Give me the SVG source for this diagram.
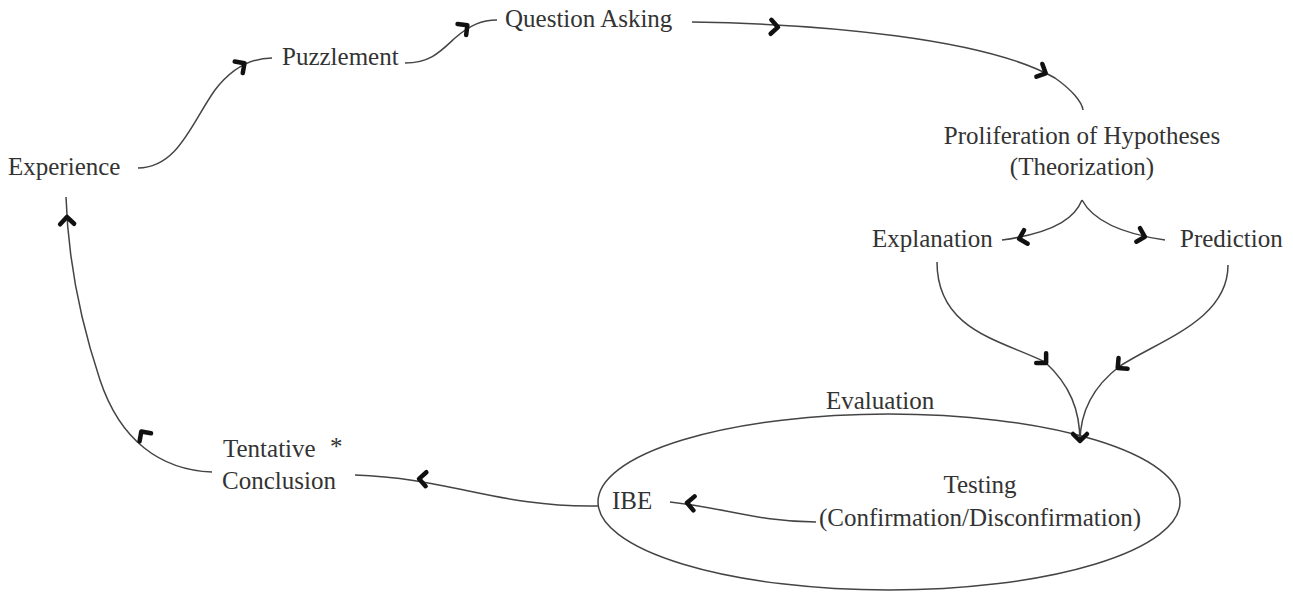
<svg xmlns="http://www.w3.org/2000/svg" width="1293" height="595" viewBox="0 0 1293 595">
<style>
.c{fill:none;stroke:#444;stroke-width:1.5}
.h{fill:none;stroke:#111;stroke-width:4.5;stroke-linecap:round;stroke-linejoin:round}
</style>
<defs>
<path id="chev" class="h" d="M-4,-7 Q1,-2 3,0 Q1,2 -4,7"/>
</defs>
<rect width="1293" height="595" fill="#fff"/>
<g id="connectors">
<path class="c" d="M138,168 C178,168 192,122 215,90 C232,68 250,58 272,58"/>
<path class="c" d="M405,63 C430,63 440,52 455,38 C470,25 482,20 497,20"/>
<path class="c" d="M692,22 C820,24 985,38 1055,78 C1072,90 1082,102 1083,110"/>
<path class="c" d="M1082,200 C1076,215 1060,232 1002,240"/>
<path class="c" d="M1082,200 C1090,215 1110,232 1165,240"/>
<path class="c" d="M937,262 C937,330 1000,340 1045,362 C1070,385 1080,410 1080,442"/>
<path class="c" d="M1228,265 C1228,320 1160,340 1120,366 C1095,385 1080,410 1080,442"/>
<path class="c" d="M816,522 C760,522 725,508 670,502"/>
<path class="c" d="M598,506 C500,508 450,478 355,475"/>
<path class="c" d="M212,472 C160,470 120,440 100,380 C80,320 68,260 66,197"/>
<ellipse class="c" cx="889" cy="502" rx="291" ry="88"/>
<use href="#chev" transform="translate(242,65) rotate(-35)"/>
<use href="#chev" transform="translate(465,27) rotate(-38)"/>
<use href="#chev" transform="translate(775,27) rotate(3)"/>
<use href="#chev" transform="translate(1043,72) rotate(25)"/>
<use href="#chev" transform="translate(1022,238) rotate(165)"/>
<use href="#chev" transform="translate(1142,236) rotate(15)"/>
<use href="#chev" transform="translate(1044,361) rotate(45)"/>
<use href="#chev" transform="translate(1120,366) rotate(140)"/>
<use href="#chev" transform="translate(1080,438) rotate(90)"/>
<use href="#chev" transform="translate(690,503) rotate(185)"/>
<use href="#chev" transform="translate(422,479) rotate(183)"/>
<use href="#chev" transform="translate(143,434) rotate(235)"/>
<use href="#chev" transform="translate(67,220) rotate(268)"/>
</g>
<g font-family="Liberation Serif, Times New Roman, serif" font-size="25" fill="#333">
<g id="experience"><text x="8" y="175">Experience</text></g>
<g id="puzzlement"><text x="282" y="65">Puzzlement</text></g>
<g id="question"><text x="505" y="27">Question Asking</text></g>
<g id="proliferation"><text x="1082" y="144" text-anchor="middle">Proliferation of Hypotheses</text><text x="1082" y="175" text-anchor="middle">(Theorization)</text></g>
<g id="explanation"><text x="872" y="247">Explanation</text></g>
<g id="prediction"><text x="1180" y="247">Prediction</text></g>
<g id="evaluation"><text x="826" y="409">Evaluation</text></g>
<g id="testing"><text x="980" y="493" text-anchor="middle">Testing</text><text x="980" y="526" text-anchor="middle">(Confirmation/Disconfirmation)</text></g>
<g id="ibe"><text x="612" y="509">IBE</text></g>
<g id="conclusion"><text x="223" y="457">Tentative</text><text x="330" y="455">*</text><text x="222" y="489">Conclusion</text></g>
</g>
</svg>
